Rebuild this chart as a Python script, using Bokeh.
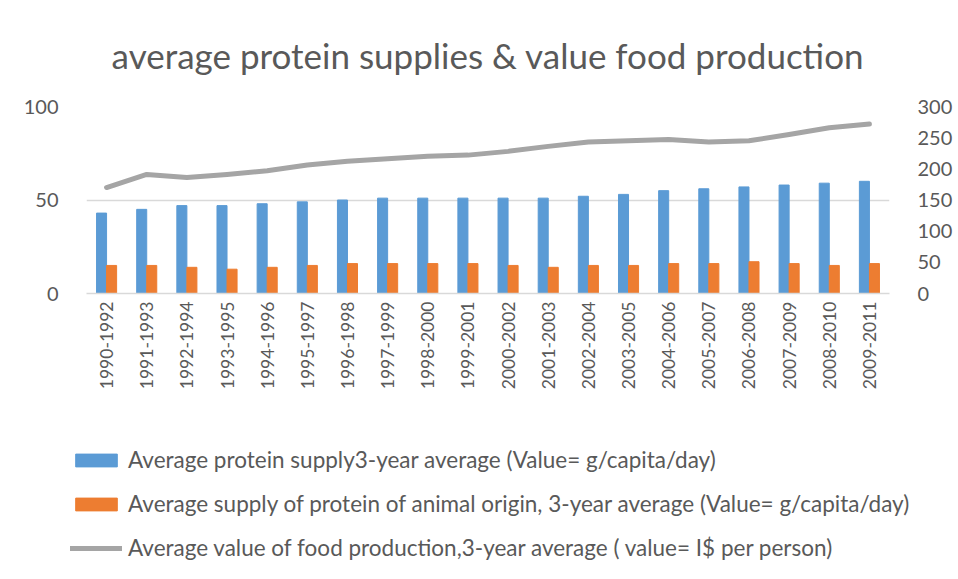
from bokeh.plotting import figure
from bokeh.models import (FactorRange, Range1d, LinearAxis, Legend, LegendItem,
                          ColumnDataSource, FixedTicker)
from bokeh.transform import dodge
from bokeh.embed import file_html
from bokeh.resources import INLINE
import math

periods = ["1990-1992", "1991-1993", "1992-1994", "1993-1995", "1994-1996",
           "1995-1997", "1996-1998", "1997-1999", "1998-2000", "1999-2001",
           "2000-2002", "2001-2003", "2002-2004", "2003-2005", "2004-2006",
           "2005-2007", "2006-2008", "2007-2009", "2008-2010", "2009-2011"]
protein_supply = [43, 45, 47, 47, 48, 49, 50, 51, 51, 51,
                  51, 51, 52, 53, 55, 56, 57, 58, 59, 60]
animal_protein = [15, 15, 14, 13, 14, 15, 16, 16, 16, 16,
                  15, 14, 15, 15, 16, 16, 17, 16, 15, 16]
food_value = [170, 191, 186, 191, 197, 206, 212, 216, 220, 222,
              228, 236, 243, 245, 247, 243, 245, 255, 266, 272]

labels = ["Average protein supply3-year average (Value= g/capita/day)",
          "Average supply of protein of animal origin, 3-year average (Value= g/capita/day)",
          "Average value of food production,3-year average ( value= I$ per person)"]

BLUE, ORANGE, GREY = "#5b9bd5", "#ed7d31", "#a5a5a5"

src = ColumnDataSource(dict(period=periods, prot=protein_supply,
                            anim=animal_protein, val=food_value))

FONT = "Lato"
TXT = "#595959"
GRID = "#d9d9d9"

p = figure(width=955, height=430, x_range=FactorRange(*periods, range_padding=0),
           y_range=Range1d(0, 100), output_backend="svg", toolbar_location=None,
           min_border_left=86, min_border_right=49, min_border_top=105,
           min_border_bottom=137)
p.outline_line_color = None
p.background_fill_color = "white"

p.title.text = "average protein supplies & value food production"
p.title.align = "center"
p.title.text_font = FONT
p.title.text_font_size = "35px"
p.title.text_font_style = "normal"
p.title.text_color = TXT
p.title.standoff = 62

p.extra_y_ranges = {"r": Range1d(0, 300)}

p.vbar(x=dodge("period", -0.125, range=p.x_range), top="prot", width=0.25,
       source=src, color=BLUE)
p.vbar(x=dodge("period", 0.125, range=p.x_range), top="anim", width=0.25,
       source=src, color=ORANGE)
p.line(x="period", y="val", source=src, y_range_name="r",
       line_color=GREY, line_width=5, line_cap="round", line_join="round")

p.yaxis.ticker = FixedTicker(ticks=[0, 50, 100])
p.ygrid.ticker = FixedTicker(ticks=[0, 50, 100])
p.ygrid.grid_line_color = GRID
p.ygrid.grid_line_width = 1.5
p.xgrid.grid_line_color = None

la = p.yaxis[0]
la.axis_line_color = None
la.major_tick_line_color = None
la.minor_tick_line_color = None
la.major_label_text_font = FONT
la.major_label_text_font_size = "20px"
la.major_label_text_color = TXT
la.major_label_standoff = 22

ra = LinearAxis(y_range_name="r", ticker=FixedTicker(ticks=[0, 50, 100, 150, 200, 250, 300]))
ra.axis_line_color = None
ra.major_tick_line_color = None
ra.minor_tick_line_color = None
ra.major_label_text_font = FONT
ra.major_label_text_font_size = "20px"
ra.major_label_text_color = TXT
ra.major_label_standoff = 22
p.add_layout(ra, "right")

xa = p.xaxis[0]
xa.axis_line_color = GRID
xa.axis_line_width = 1.5
xa.major_tick_line_color = None
xa.minor_tick_line_color = None
xa.major_label_orientation = math.pi / 2
xa.major_label_text_font = FONT
xa.major_label_text_font_size = "17.5px"
xa.major_label_text_color = TXT
xa.major_label_standoff = 2

# legend in its own strip below the chart (proxy glyphs with no visible data)
q = figure(width=955, height=133, x_range=Range1d(0, 1), y_range=Range1d(0, 1),
           output_backend="svg", toolbar_location=None,
           x_axis_location=None, y_axis_location=None,
           min_border_left=0, min_border_right=0, min_border_top=0, min_border_bottom=0)
q.grid.visible = False
q.outline_line_color = None
nan = float("nan")
l1 = q.vbar(x=[nan], top=[nan], width=0.1, color=BLUE)
l2 = q.vbar(x=[nan], top=[nan], width=0.1, color=ORANGE)
l3 = q.line(x=[nan, nan], y=[nan, nan], line_color=GREY, line_width=5, line_cap="round")

legend = Legend(items=[LegendItem(label=labels[0], renderers=[l1]),
                       LegendItem(label=labels[1], renderers=[l2]),
                       LegendItem(label=labels[2], renderers=[l3])],
                orientation="vertical", location=(70, 2))
legend.label_text_font = FONT
legend.label_text_font_size = "22.5px"
legend.label_text_color = TXT
legend.glyph_width = 52
legend.glyph_height = 16
legend.spacing = 17
legend.label_standoff = 6
legend.border_line_color = None
legend.background_fill_alpha = 0
legend.margin = 0
legend.padding = 0
q.add_layout(legend, "center")

open("out.html", "w").write(file_html((p, q), INLINE))
